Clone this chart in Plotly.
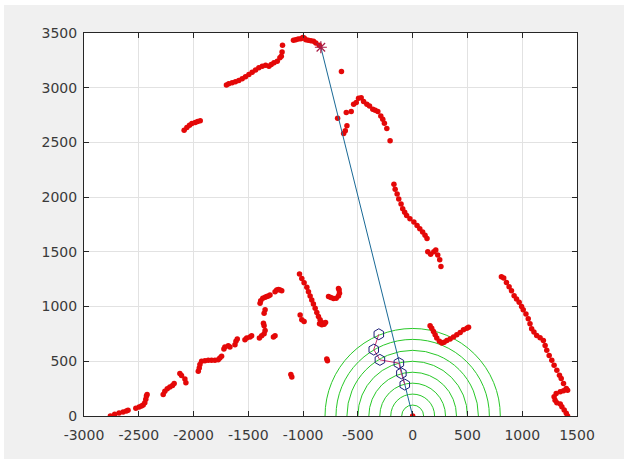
import plotly.graph_objects as go

# ---- data ----
scan_x = [
    -2759, -2720, -2680, -2643, -2613, -2598,
    -2527, -2497, -2476, -2460, -2445, -2436, -2430, -2424,
    -2277, -2262, -2240, -2216, -2192, -2177,
    -2125, -2110, -2079, -2070,
    -1957, -1948, -1942, -1927, -1896, -1866, -1836, -1805, -1775, -1760, -1744,
    -1723, -1714, -1683, -1668, -1622, -1613, -1601,
    -1531, -1515, -1485, -1470,
    -1399, -1378, -1356, -1347, -1356, -1362,
    -1271, -1256,
    -1356, -1347,
    -1393, -1387, -1368, -1347, -1332, -1317, -1302,
    -1256, -1241, -1225, -1210, -1195,
    -1033, -1012, -991, -966, -951, -936, -921, -906, -890, -875, -860, -845, -830,
    -850, -829, -808, -795,
    -1027, -1012, -991,
    -1112, -1103,
    -784, -778,
    -768, -747, -723, -698, -677, -668, -671, -677,
    -2086, -2061, -2037, -2015, -1985, -1963, -1939,
    -1700, -1679, -1648, -1618, -1587, -1556, -1526, -1495, -1465, -1434, -1404,
    -1373, -1342, -1312, -1291, -1266, -1236, -1212, -1199,
    -1192, -1188,
    -1088, -1067, -1045, -1021, -1003, -990, -975, -953, -929, -905, -884, -853,
    -650, -685,
    -630, -615, -600, -606, -561, -539, -515, -494, -470, -448, -418, -394, -364,
    -342, -318, -291, -273, -258, -236, -206,
    -171, -160, -142, -127, -106, -91, -73, -55, -25, 11, 40, 65, 91, 113, 131,
    138, 164, 193, 211, 229, 247, 258,
    159, 174, 190, 205, 220, 244, 266, 287, 312, 342, 373, 403, 434, 464, 495, 510,
    810, 831, 856, 880, 902, 926, 948, 972, 994, 1009, 1034, 1055, 1071, 1086,
    1107, 1132, 1163, 1193, 1209, 1224, 1246, 1270, 1291, 1316, 1340, 1356, 1377,
    1402, 1414,
    1377, 1347, 1310, 1291, 1300, 1316, 1347, 1362, 1383, 1402, 1414,
    0,
]
scan_y = [
    0, 15, 27, 36, 45, 52,
    70, 82, 91, 100, 121, 152, 182, 197,
    197, 227, 248, 264, 279, 297,
    388, 370, 339, 303,
    409, 439, 470, 500, 506, 509, 509, 509, 515, 530, 545,
    612, 630, 642, 630, 651, 682, 703,
    697, 712, 721, 733,
    712, 733, 751, 782, 824, 848,
    721, 733,
    939, 970,
    1030, 1054, 1075, 1085, 1091, 1097, 1106,
    1136, 1151, 1157, 1151, 1145,
    1297, 1257, 1218, 1176, 1136, 1097, 1060, 1024, 985, 945, 909, 879, 854,
    842, 833, 839, 854,
    924, 879, 863,
    379, 357,
    521, 506,
    1091, 1082, 1073, 1076, 1097, 1121, 1151, 1166,
    2612, 2636, 2658, 2673, 2682, 2691, 2697,
    3024, 3036, 3045, 3055, 3067, 3082, 3100, 3121, 3142, 3161, 3182,
    3197, 3206, 3197, 3212, 3227, 3242, 3273, 3288,
    3327, 3388,
    3433, 3439, 3445, 3448, 3460, 3454, 3439, 3433, 3430, 3424, 3409, 3388,
    3148, 2721,
    2582, 2606, 2652, 2773, 2782, 2848, 2864, 2903, 2909, 2873, 2848, 2833, 2803,
    2794, 2782, 2742, 2712, 2676, 2627, 2515,
    2118, 2073, 2028, 1983, 1938, 1893, 1863, 1833, 1803, 1772, 1742, 1712, 1682, 1652, 1622,
    1502, 1478, 1502, 1517, 1472, 1427, 1367,
    824, 803, 773, 742, 712, 682, 666, 673, 691, 703, 721, 742, 764, 788, 803, 812,
    1273, 1260, 1221, 1182, 1145, 1100, 1070, 1039, 1000, 970, 933, 888, 842, 797,
    767, 736, 715, 691, 645, 600, 554, 509, 464, 418, 373, 342, 297,
    251, 236,
    230, 221, 206, 176, 145, 121, 109, 85, 55, 24, 0,
    0,
]

hex_x = [-309, -355, -299, -126, -103, -72]
hex_y = [747, 607, 513, 483, 390, 287]

target_x = [-838]
target_y = [3370]

ray_x = [0, -838]
ray_y = [0, 3370]

circle_radii = [100, 200, 300, 400, 500, 600, 700, 800]

x_ticks = [-3000, -2500, -2000, -1500, -1000, -500, 0, 500, 1000, 1500]
x_ticklabels = ["-3000", "-2500", "-2000", "-1500", "-1000", "-500", "0", "500", "1000", "1500"]
y_ticks = [0, 500, 1000, 1500, 2000, 2500, 3000, 3500]
y_ticklabels = ["0", "500", "1000", "1500", "2000", "2500", "3000", "3500"]

# ---- figure ----
fig = go.Figure()

fig.add_trace(go.Scatter(
    x=scan_x, y=scan_y, mode="markers",
    marker=dict(size=5.5, color="rgb(228,8,8)", line=dict(width=0)),
    hoverinfo="skip", showlegend=False,
))
fig.add_trace(go.Scatter(
    x=ray_x, y=ray_y, mode="lines",
    line=dict(color="rgb(25,105,150)", width=1),
    hoverinfo="skip", showlegend=False,
))
fig.add_trace(go.Scatter(
    x=hex_x, y=hex_y, mode="lines+markers",
    line=dict(color="rgb(200,50,110)", width=1),
    marker=dict(symbol="hexagon-open", size=11, color="rgb(30,30,120)", line=dict(width=1)),
    hoverinfo="skip", showlegend=False,
))
fig.add_trace(go.Scatter(
    x=target_x, y=target_y, mode="markers",
    marker=dict(symbol="asterisk-open", size=10, color="rgb(170,30,70)",
                line=dict(width=1.2, color="rgb(170,30,70)")),
    hoverinfo="skip", showlegend=False,
))

shapes = []
for r in circle_radii:
    shapes.append(dict(
        type="circle", xref="x", yref="y", x0=-r, x1=r, y0=-r, y1=r,
        line=dict(color="rgb(40,200,40)", width=1), layer="between",
    ))
# thin white strips at the top and left edge of the screenshot
shapes.append(dict(type="rect", xref="paper", yref="paper",
                   x0=-0.3, x1=1.3, y0=(416 - 5) / 383, y1=1.3,
                   fillcolor="white", line=dict(width=0), layer="above"))
shapes.append(dict(type="rect", xref="paper", yref="paper",
                   x0=-0.3, x1=(4 - 84) / 493, y0=-0.3, y1=1.3,
                   fillcolor="white", line=dict(width=0), layer="above"))

axis_common = dict(
    showgrid=True, gridcolor="#e2e2e2", gridwidth=1,
    zeroline=False, showline=True, linecolor="#262626", linewidth=1,
    mirror="ticks", ticks="inside", ticklen=5, tickcolor="#262626",
    tickfont=dict(family="DejaVu Sans", size=14, color="#3a3a3a"),
)

fig.update_layout(
    width=624, height=459,
    margin=dict(l=84, r=47, t=33, b=43),
    paper_bgcolor="#f0f0f0", plot_bgcolor="white",
    shapes=shapes,
    xaxis=dict(range=[-3000, 1500], tickvals=x_ticks, ticktext=x_ticklabels,
               ticklabelstandoff=6, **axis_common),
    yaxis=dict(range=[0, 3500], tickvals=y_ticks, ticktext=y_ticklabels,
               ticklabelstandoff=3, **axis_common),
)

fig.write_html(
    "out.html", config={"displayModeBar": False},
    post_script=("document.body.style.margin='0';"
                 "document.body.style.background='#f0f0f0';"
                 "document.documentElement.style.background='#f0f0f0';"),
)
